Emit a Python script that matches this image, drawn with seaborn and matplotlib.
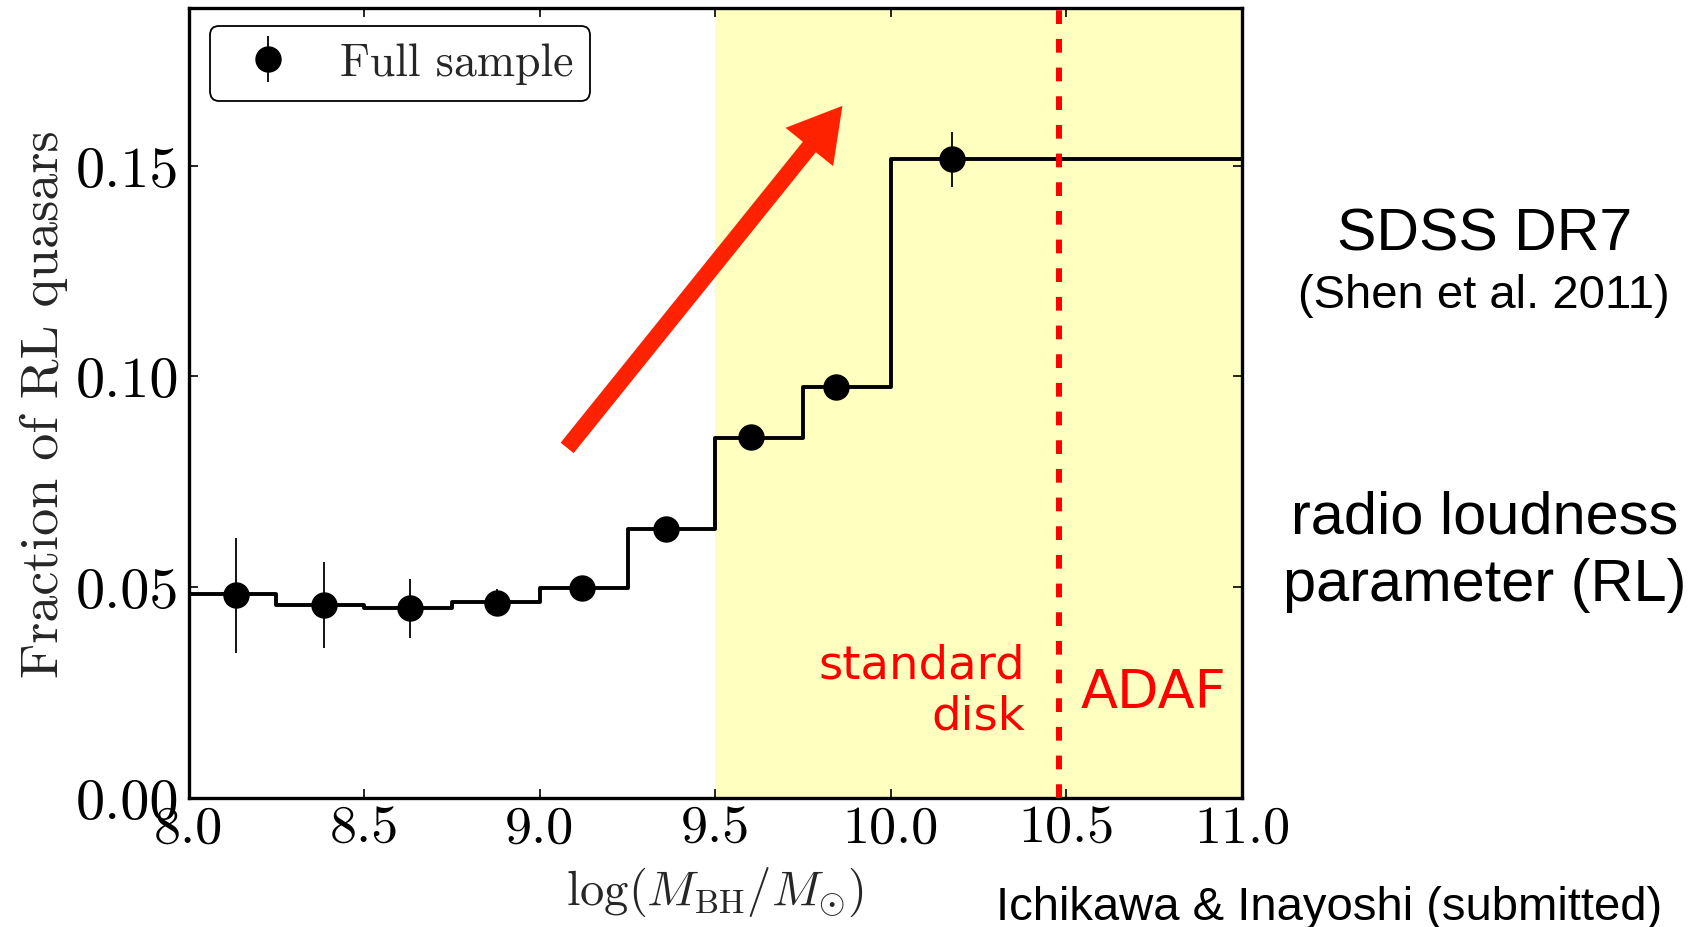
import matplotlib
matplotlib.use("Agg")
import matplotlib.pyplot as plt
import seaborn as sns
import pandas as pd

# Step profile: bin edges in log black-hole mass and RL-quasar fraction per bin
bin_edges = [8.0, 8.25, 8.5, 8.75, 9.0, 9.25, 9.5, 9.75, 10.0, 11.0]
bin_fraction = [0.0483, 0.0458, 0.0449, 0.0464, 0.0498, 0.0638, 0.0854, 0.0975, 0.1515]

# Mean mass of each bin, RL fraction and its 1-sigma error
point_mass = [8.135, 8.387, 8.632, 8.878, 9.120, 9.359, 9.602, 9.845, 10.173]
point_fraction = [0.0480, 0.0458, 0.0449, 0.0462, 0.0497, 0.0638, 0.0856, 0.0974, 0.1515]
point_error = [0.0137, 0.0102, 0.0070, 0.0032, 0.0018, 0.0012, 0.0010, 0.0010, 0.0066]

x_ticks = [8.0, 8.5, 9.0, 9.5, 10.0, 10.5, 11.0]
y_ticks = [0.00, 0.05, 0.10, 0.15]

adaf_mass = 10.478            # transition mass: standard disk -> ADAF
shade_range = (9.5, 11.0)     # high-mass region
trend_tail = (9.078, 0.083)
trend_tip = (9.862, 0.1642)

sns.set_style("ticks")
plt.rcParams["font.family"] = ["cmr10", "DejaVu Serif"]
plt.rcParams["mathtext.fontset"] = "cm"
plt.rcParams["axes.formatter.use_mathtext"] = True

fig = plt.figure(figsize=(17.08, 9.28), dpi=100, facecolor="white")
ax = fig.add_axes([0.1104, 0.1395, 0.6168, 0.8511])
ax.set_facecolor("white")

ax.axvspan(*shade_range, color="#ffffc0", lw=0, zorder=0)

steps = pd.DataFrame({"mass": bin_edges,
                      "fraction": bin_fraction + [bin_fraction[-1]]})
sns.lineplot(data=steps, x="mass", y="fraction", ax=ax, color="black",
             lw=2.8, drawstyle="steps-post", estimator=None, sort=False,
             legend=False, zorder=2)

ax.axvline(adaf_mass, color="#ff0000", lw=4.3, dashes=(2.3, 2.5), zorder=3)

ax.errorbar(point_mass, point_fraction, yerr=point_error, fmt="o",
            color="black", ms=18, elinewidth=1.3, capsize=0,
            label="Full sample", zorder=4)

ax.annotate("", xy=trend_tip, xytext=trend_tail,
            arrowprops=dict(arrowstyle="simple,head_length=1.9,head_width=2.2,tail_width=0.6",
                            color="#ff2200", lw=0, shrinkA=0, shrinkB=0,
                            mutation_scale=20), zorder=5)

ax.text(10.382, 0.0163, "standard\ndisk", color="#ff0000", fontsize=33.5,
        family="DejaVu Sans", ha="right", va="baseline", multialignment="right",
        linespacing=1.17, zorder=6)
ax.text(10.54, 0.0215, "ADAF", color="#ff0000", fontsize=39,
        family="DejaVu Sans", ha="left", va="baseline", zorder=6)

ax.set_xlim(8.0, 11.0)
ax.set_ylim(0.0, 0.1875)
ax.set_xticks(x_ticks)
ax.set_yticks(y_ticks)
ax.set_xticklabels([f"{v:.1f}" for v in x_ticks])
ax.set_yticklabels([f"{v:.2f}" for v in y_ticks])
ax.tick_params(direction="in", top=True, right=True, length=6.5, width=1.2,
               colors="black")
ax.tick_params(axis="x", pad=5, labelsize=39)
ax.tick_params(axis="y", pad=7, labelsize=42)
for spine in ax.spines.values():
    spine.set_linewidth(2.4)
    spine.set_color("black")
    spine.set_visible(True)

ax.set_ylabel("Fraction of RL quasars", fontsize=39)
ax.yaxis.set_label_coords(-0.114, 0.5)
ax.set_xlabel(r"$\log(M_{\rm BH}/M_{\odot})$", fontsize=35)
ax.xaxis.set_label_coords(0.5, -0.085)

leg = ax.legend(loc="upper left", bbox_to_anchor=(0.0204, 0.977),
                borderaxespad=0, numpoints=1, fancybox=True, frameon=True,
                prop={"family": "cmr10", "size": 33}, borderpad=0.36,
                handlelength=1.8, handletextpad=0.67)
leg.get_frame().set_edgecolor("black")
leg.get_frame().set_linewidth(1.3)
leg.get_frame().set_alpha(1)

side = dict(family="Liberation Sans", color="black", ha="center", va="baseline")
fig.text(0.869, 0.730, "SDSS DR7", fontsize=42.5, **side)
fig.text(0.869, 0.668, "(Shen et al. 2011)", fontsize=34, **side)
fig.text(0.869, 0.4249, "radio loudness", fontsize=42.8, **side)
fig.text(0.869, 0.352, "parameter (RL)", fontsize=42.8, **side)
fig.text(0.778, 0.0081, "Ichikawa & Inayoshi (submitted)", fontsize=34, **side)

fig.savefig("out.png", dpi=100, facecolor="white")
